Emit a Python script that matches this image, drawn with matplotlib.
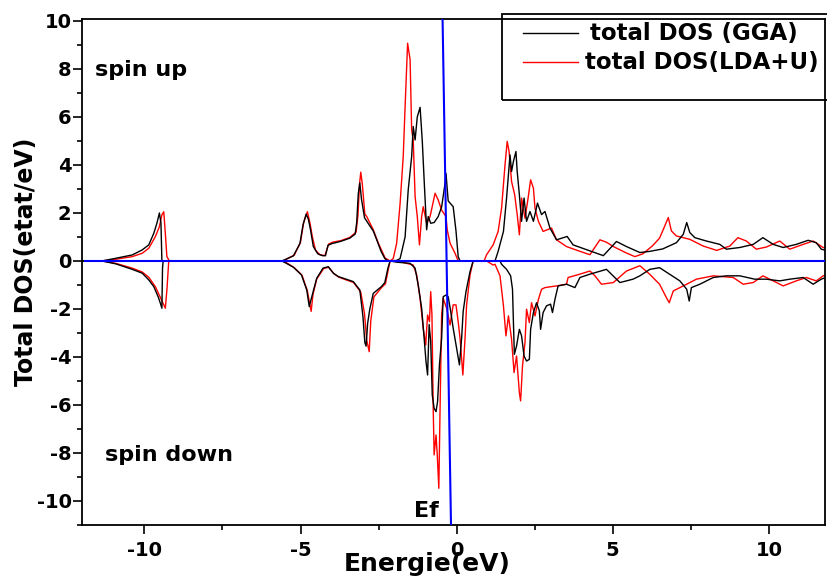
import matplotlib.pyplot as plt
import numpy as np
from matplotlib.patches import Rectangle
from matplotlib.ticker import MultipleLocator

plt.rcParams["font.family"] = ["DejaVu Sans"]
plt.rcParams["font.weight"] = "bold"
plt.rcParams["axes.unicode_minus"] = False

# (Energie eV, DOS)
gga_up = [
    (-12, 0), (-11.36, 0), (-10.92, 0.11), (-10.39, 0.25), (-10.07, 0.46), (-9.86, 0.67),
    (-9.7, 1.15), (-9.6, 1.57), (-9.52, 2.0), (-9.47, 1.57), (-9.44, 0.0), (-5.6, 0.0),
    (-5.45, 0.08), (-5.23, 0.21), (-5.02, 0.72), (-4.92, 1.5), (-4.82, 1.95), (-4.75, 1.75),
    (-4.68, 1.3), (-4.59, 0.6), (-4.45, 0.3), (-4.3, 0.22), (-4.2, 0.22), (-4.12, 0.65),
    (-4.0, 0.72), (-3.7, 0.82), (-3.42, 0.95), (-3.25, 1.12), (-3.2, 1.6), (-3.15, 2.8),
    (-3.1, 3.25), (-3.05, 2.6), (-2.95, 1.8), (-2.8, 1.5), (-2.67, 1.25), (-2.55, 0.85),
    (-2.42, 0.4), (-2.3, 0.1), (-2.2, 0.0), (-1.92, 0.02), (-1.81, 0.1), (-1.65, 1.0),
    (-1.55, 2.96), (-1.44, 4.35), (-1.39, 5.6), (-1.33, 5.04), (-1.26, 6.0), (-1.17, 6.4),
    (-1.10, 5.0), (-1.03, 3.1), (-0.96, 1.3), (-0.91, 1.85), (-0.83, 1.57), (-0.72, 1.6),
    (-0.59, 1.85), (-0.48, 2.25), (-0.37, 3.24), (-0.34, 3.65), (-0.27, 2.5), (-0.11, 2.26),
    (-0.02, 1.25), (0.05, 0.18), (0.11, 0.0), (1.23, 0.0), (1.33, 0.4), (1.5, 1.23),
    (1.6, 2.62), (1.71, 4.42), (1.76, 3.73), (1.82, 4.15), (1.9, 4.56), (1.94, 3.73),
    (2.01, 2.76), (2.08, 1.65), (2.16, 2.62), (2.24, 1.65), (2.35, 2.06), (2.46, 1.65),
    (2.59, 2.41), (2.72, 1.93), (2.83, 2.06), (2.99, 1.37), (3.2, 0.88), (3.54, 1.02),
    (3.73, 0.67), (4.16, 0.47), (4.7, 0.22), (5.12, 0.81), (5.44, 0.6), (5.87, 0.35),
    (6.19, 0.4), (6.6, 0.5), (7.04, 0.76), (7.26, 1.11), (7.37, 1.6), (7.47, 1.18),
    (7.63, 0.97), (8.0, 0.83), (8.43, 0.69), (8.64, 0.49), (9.07, 0.56), (9.5, 0.69),
    (9.81, 0.97), (10.14, 0.69), (10.46, 0.56), (10.88, 0.69), (11.26, 0.86), (11.52, 0.76),
    (11.68, 0.49), (11.8, 0.45),
]

gga_dn = [
    (-12, 0), (-11.36, 0), (-10.92, -0.12), (-10.39, -0.35), (-10.07, -0.51), (-9.86, -0.79),
    (-9.7, -1.07), (-9.56, -1.49), (-9.49, -1.76), (-9.44, -1.97), (-9.42, -0.3), (-9.4, 0),
    (-5.6, 0), (-5.45, -0.1), (-5.23, -0.26), (-4.97, -0.58), (-4.8, -1.21), (-4.72, -1.9),
    (-4.64, -1.5), (-4.58, -1.2), (-4.48, -0.72), (-4.28, -0.3), (-4.11, -0.24), (-3.95, -0.51),
    (-3.79, -0.65), (-3.31, -0.86), (-3.1, -1.21), (-3.0, -2.32), (-2.94, -3.4), (-2.9, -3.55),
    (-2.85, -2.6), (-2.78, -2.0), (-2.67, -1.35), (-2.41, -1.07), (-2.3, -0.9), (-2.2, -0.3),
    (-2.13, 0), (-1.92, -0.05), (-1.49, -0.1), (-1.33, -0.3), (-1.23, -1.0), (-1.12, -1.97),
    (-1.04, -3.22), (-0.98, -4.2), (-0.93, -4.75), (-0.88, -2.65), (-0.83, -3.35), (-0.78, -5.58),
    (-0.72, -6.14), (-0.66, -6.28), (-0.61, -5.86), (-0.55, -4.33), (-0.48, -3.22), (-0.43, -1.49),
    (-0.34, -1.42), (-0.27, -1.49), (-0.19, -2.1), (-0.11, -2.8), (0.0, -3.64), (0.09, -4.33),
    (0.16, -3.22), (0.21, -2.1), (0.3, -1.28), (0.43, -0.44), (0.53, 0), (1.39, 0),
    (1.44, -0.14), (1.6, -0.35), (1.73, -0.62), (1.79, -1.18), (1.82, -2.57), (1.85, -3.89),
    (1.92, -3.54), (2.01, -2.85), (2.08, -3.12), (2.16, -3.96), (2.24, -4.17), (2.33, -4.1),
    (2.37, -2.85), (2.46, -2.15), (2.56, -1.74), (2.65, -2.08), (2.69, -2.85), (2.77, -2.15),
    (2.88, -1.87), (3.01, -1.8), (3.07, -2.15), (3.15, -1.6), (3.25, -1.04), (3.52, -0.97),
    (3.79, -1.11), (3.95, -0.69), (4.27, -0.55), (4.8, -0.35), (5.23, -0.9), (5.65, -0.76),
    (5.87, -0.62), (6.19, -0.35), (6.5, -0.28), (6.83, -0.56), (7.15, -0.83), (7.37, -1.18),
    (7.45, -1.67), (7.52, -1.11), (7.79, -0.97), (8.22, -0.69), (8.64, -0.62), (9.07, -0.62),
    (9.55, -0.76), (9.92, -0.76), (10.35, -0.83), (10.67, -0.76), (11.1, -0.69), (11.42, -0.97),
    (11.68, -0.76), (11.8, -0.7),
]

lda_up = [
    (-12, 0), (-11.36, 0), (-10.92, 0.07), (-10.39, 0.18), (-10.07, 0.32), (-9.86, 0.53),
    (-9.65, 1.01), (-9.52, 1.43), (-9.44, 1.92), (-9.38, 2.05), (-9.33, 1.15), (-9.28, 0.18),
    (-9.2, 0), (-5.55, 0), (-5.42, 0.1), (-5.2, 0.24), (-5.0, 0.78), (-4.9, 1.6),
    (-4.78, 2.05), (-4.7, 1.6), (-4.62, 1.0), (-4.52, 0.45), (-4.38, 0.26), (-4.22, 0.22),
    (-4.1, 0.7), (-3.98, 0.78), (-3.7, 0.85), (-3.42, 0.98), (-3.22, 1.2), (-3.16, 1.9),
    (-3.11, 3.2), (-3.07, 3.7), (-3.02, 3.2), (-2.94, 1.95), (-2.88, 1.85), (-2.67, 1.3),
    (-2.51, 0.75), (-2.29, 0.12), (-2.13, 0), (-2.03, 0.1), (-1.92, 0.74), (-1.81, 2.4),
    (-1.71, 4.35), (-1.65, 6.43), (-1.57, 9.07), (-1.49, 8.38), (-1.44, 5.46), (-1.39, 5.04),
    (-1.33, 2.68), (-1.26, 1.85), (-1.19, 0.67), (-1.12, 1.85), (-1.07, 2.26), (-0.96, 1.57),
    (-0.85, 1.85), (-0.69, 2.82), (-0.59, 2.54), (-0.48, 2.12), (-0.34, 1.85), (-0.3, 1.29),
    (-0.21, 0.74), (-0.05, 0.32), (0.05, 0), (0.88, 0), (0.96, 0.26), (1.17, 0.67),
    (1.33, 1.23), (1.44, 2.2), (1.55, 4.0), (1.62, 4.98), (1.68, 4.56), (1.76, 3.31),
    (1.86, 2.76), (1.94, 1.93), (2.01, 1.09), (2.08, 2.62), (2.19, 1.78), (2.29, 2.62),
    (2.37, 3.38), (2.46, 3.03), (2.51, 2.2), (2.62, 1.65), (2.77, 1.23), (3.04, 1.37),
    (3.2, 0.88), (3.52, 0.6), (3.95, 0.4), (4.27, 0.26), (4.59, 0.88), (4.8, 0.78),
    (5.02, 0.6), (5.44, 0.33), (5.71, 0.18), (5.97, 0.3), (6.29, 0.65), (6.5, 0.95),
    (6.6, 1.25), (6.78, 1.81), (6.88, 1.25), (7.04, 1.04), (7.47, 0.9), (7.9, 0.62),
    (8.33, 0.44), (8.75, 0.62), (9.01, 0.97), (9.28, 0.83), (9.6, 0.49), (9.92, 0.58),
    (10.35, 0.83), (10.67, 0.49), (11.1, 0.69), (11.42, 0.83), (11.74, 0.56), (11.8, 0.55),
]

lda_dn = [
    (-12, 0), (-11.36, 0), (-10.92, -0.1), (-10.39, -0.3), (-10.07, -0.46), (-9.86, -0.68),
    (-9.65, -1.07), (-9.5, -1.49), (-9.38, -1.83), (-9.33, -1.97), (-9.28, -1.21), (-9.22, 0),
    (-5.55, 0), (-5.42, -0.1), (-5.2, -0.28), (-4.95, -0.6), (-4.78, -1.25), (-4.69, -1.9),
    (-4.66, -2.1), (-4.6, -1.4), (-4.48, -0.75), (-4.26, -0.32), (-4.1, -0.26), (-3.93, -0.53),
    (-3.77, -0.68), (-3.3, -0.9), (-3.07, -1.3), (-2.95, -2.2), (-2.88, -3.3), (-2.8, -3.78),
    (-2.75, -2.5), (-2.65, -1.5), (-2.4, -1.1), (-2.28, -0.95), (-2.18, -0.3), (-2.13, 0),
    (-1.81, -0.03), (-1.39, -0.17), (-1.28, -0.58), (-1.17, -1.56), (-1.07, -2.8), (-0.99, -3.5),
    (-0.93, -2.25), (-0.87, -2.53), (-0.83, -1.28), (-0.79, -2.25), (-0.75, -6.14), (-0.72, -8.08),
    (-0.66, -7.25), (-0.62, -8.08), (-0.57, -9.47), (-0.53, -6.14), (-0.48, -2.25), (-0.43, -1.56),
    (-0.32, -1.97), (-0.21, -2.67), (-0.11, -1.83), (-0.02, -1.83), (0.05, -2.53), (0.11, -3.22),
    (0.2, -4.75), (0.27, -3.22), (0.32, -1.83), (0.43, -0.58), (0.53, 0), (0.96, 0),
    (1.17, -0.17), (1.23, -0.14), (1.39, -0.62), (1.5, -1.87), (1.58, -3.12), (1.66, -2.29),
    (1.76, -3.26), (1.84, -4.65), (1.92, -3.96), (2.01, -5.49), (2.05, -5.83), (2.11, -4.38),
    (2.19, -3.4), (2.24, -2.01), (2.33, -2.57), (2.4, -1.74), (2.51, -2.29), (2.62, -1.6),
    (2.72, -1.18), (2.83, -1.11), (3.2, -1.04), (3.52, -0.97), (3.57, -0.69), (3.95, -0.55),
    (4.27, -0.42), (4.43, -0.62), (4.64, -0.97), (5.02, -0.9), (5.44, -0.42), (5.87, -0.2),
    (6.19, -0.56), (6.5, -0.97), (6.72, -1.53), (6.81, -1.74), (6.94, -1.25), (7.26, -1.04),
    (7.68, -0.76), (8.22, -0.62), (8.86, -0.69), (9.18, -0.97), (9.5, -0.9), (9.81, -0.62),
    (10.14, -0.83), (10.46, -1.04), (10.88, -0.83), (11.2, -0.69), (11.52, -0.83), (11.74, -0.62),
    (11.8, -0.6),
]

# niveau de Fermi (trait bleu, un peu incliné sur l'original)
fermi_e = [-0.45, -0.18]
fermi_y = [10.1, -11]
base_e = [-11.9, 11.8]
base_y = [0, 0]

fig = plt.figure(figsize=(8.28, 5.79), dpi=100)
ax = fig.add_axes([0.099, 0.0933, 0.8974, 0.8739])

for data, c in [(lda_up, "red"), (lda_dn, "red"), (gga_up, "black"), (gga_dn, "black")]:
    e, d = np.array(data).T
    ax.plot(e, d, color=c, lw=1.0)

ax.plot(base_e, base_y, color="blue", lw=1.5, zorder=3)
ax.plot(fermi_e, fermi_y, color="blue", lw=1.5, zorder=3)

ax.set_xlim(-12, 11.8)
ax.set_ylim(-11, 10.08)
ax.xaxis.set_major_locator(MultipleLocator(5))
ax.xaxis.set_minor_locator(MultipleLocator(2.5))
ax.yaxis.set_major_locator(MultipleLocator(2))
ax.yaxis.set_minor_locator(MultipleLocator(1))
ax.tick_params(which="major", direction="out", length=6.5, width=1.2, labelsize=14)
ax.tick_params(which="minor", direction="out", length=3.5, width=1.2)
ax.tick_params(axis="y", pad=1)
ax.tick_params(axis="x", pad=5)
for s in ax.spines.values():
    s.set_linewidth(1.3)

ax.set_xlabel("Energie(eV)", fontsize=18, fontweight="bold")
ax.xaxis.set_label_coords(0.464, -0.054)
ax.set_ylabel("Total DOS(etat/eV)", fontsize=17, fontweight="bold")
ax.yaxis.set_label_coords(-0.059, 0.52)

ax.text(-11.57, 7.96, "spin up", fontsize=16, va="center")
ax.text(-11.25, -8.08, "spin down", fontsize=16, va="center")
ax.text(-1.36, -10.4, "Ef", fontsize=16, va="center")

# légende encadrée
ax.add_patch(Rectangle((0.565, 0.84), 0.44, 0.17, transform=ax.transAxes,
                       fill=False, edgecolor="black", lw=1.3, clip_on=False))
ax.plot([0.5935, 0.6676], [0.972, 0.972], color="black", lw=1.0,
        transform=ax.transAxes, clip_on=False)
ax.plot([0.5935, 0.6676], [0.915, 0.915], color="red", lw=1.0,
        transform=ax.transAxes, clip_on=False)
ax.text(0.684, 0.972, "total DOS (GGA)", fontsize=16.5, va="center", transform=ax.transAxes)
ax.text(0.677, 0.915, "total DOS(LDA+U)", fontsize=16.5, va="center", transform=ax.transAxes)

fig.savefig("out.png", dpi=100)
